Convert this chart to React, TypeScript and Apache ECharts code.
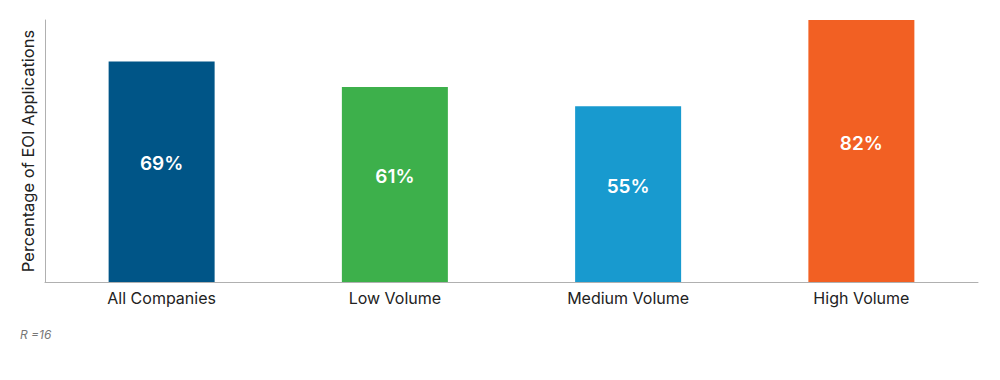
import React, { useEffect, useRef } from "react";
import * as echarts from "echarts";

const categories = ["All Companies", "Low Volume", "Medium Volume", "High Volume"];
const values = [69, 61, 55, 82];
const colors = ["#005587", "#3DB04B", "#189ACF", "#F26023"];
const yAxisName = "Percentage of EOI Applications";
const footnote = "R =16";

export default function App() {
  const ref = useRef<HTMLDivElement>(null);
  useEffect(() => {
    if (!ref.current) return;
    const chart = echarts.init(ref.current, undefined, { renderer: "svg" });
    chart.setOption({
      animation: false,
      grid: { left: 45, right: 22, top: 20, bottom: 98, containLabel: false },
      xAxis: {
        type: "category",
        data: categories,
        axisLine: { lineStyle: { color: "#b0b0b0", width: 1 } },
        axisTick: { show: false },
        axisLabel: { color: "#222", fontSize: 16, fontFamily: "Inter", margin: 8 },
      },
      yAxis: {
        type: "value",
        min: 0,
        max: 82,
        name: yAxisName,
        nameLocation: "middle",
        nameGap: 9,
        nameRotate: 90,
        nameTextStyle: { color: "#222", fontSize: 16.5, fontFamily: "Inter" },
        axisLine: { show: true, lineStyle: { color: "#b0b0b0", width: 1 } },
        axisTick: { show: false },
        axisLabel: { show: false },
        splitLine: { show: false },
      },
      series: [
        {
          type: "bar",
          data: values.map((v, i) => ({ value: v, itemStyle: { color: colors[i] } })),
          barWidth: 106,
          label: {
            show: true,
            position: "inside",
            offset: [0, -8],
            formatter: "{c}%",
            color: "#fff",
            fontSize: 19,
            fontWeight: 600,
            fontFamily: "Inter",
          },
        },
      ],
      graphic: [
        {
          type: "text",
          left: 20,
          top: 328,
          style: {
            text: footnote,
            fill: "#777",
            fontSize: 12,
            fontStyle: "italic",
            fontFamily: "Inter",
          },
        },
      ],
    });
    return () => chart.dispose();
  }, []);
  return <div ref={ref} style={{ width: 1000, height: 380, position: "absolute", left: 0, top: 0 }} />;
}
